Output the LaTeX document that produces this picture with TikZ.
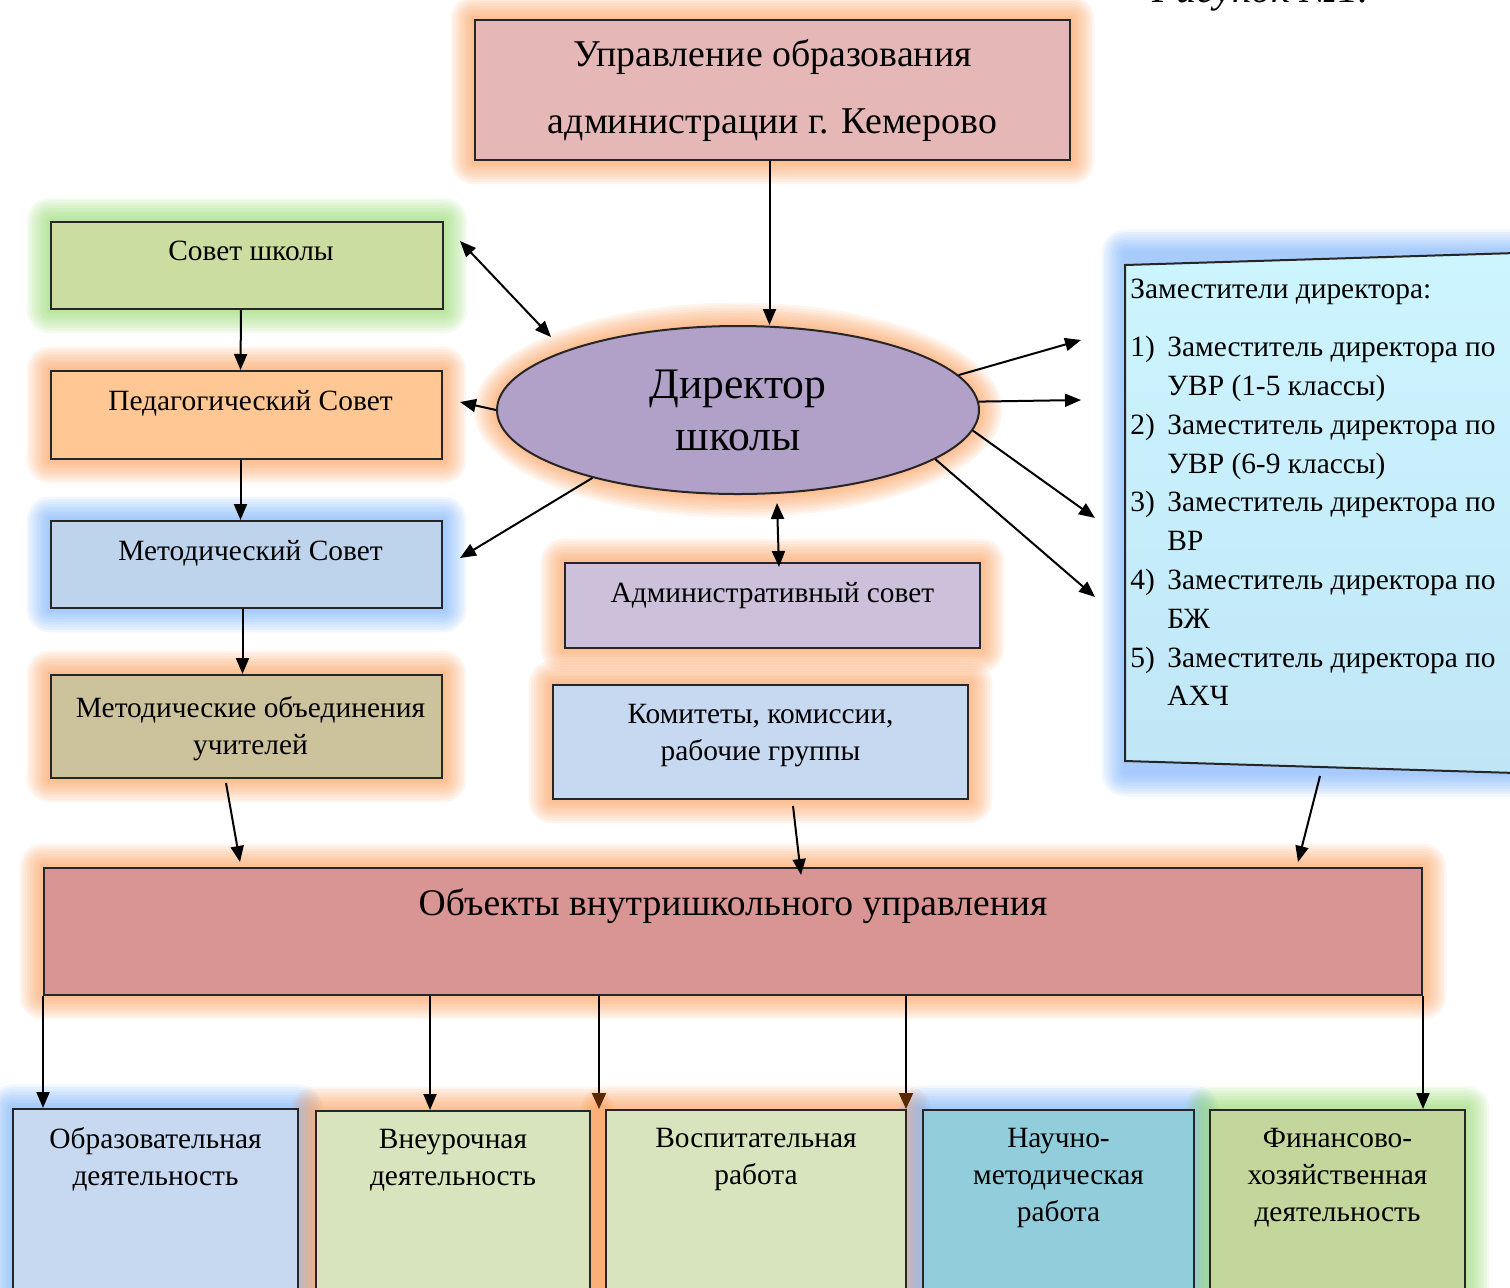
\documentclass[tikz,border=0pt]{standalone}
\usepackage{fontspec}
\setmainfont{Liberation Serif}
\usetikzlibrary{positioning,calc,arrows.meta,shapes.geometric,backgrounds}

\definecolor{uprc}{HTML}{E5B8B7}
\definecolor{sovc}{HTML}{CCDDA1}
\definecolor{pedc}{HTML}{FFC794}
\definecolor{metc}{HTML}{BED3EC}
\definecolor{moc}{HTML}{CCC29C}
\definecolor{dirc}{HTML}{B1A0C7}
\definecolor{admc}{HTML}{CCC0DA}
\definecolor{komc}{HTML}{C6D9F1}
\definecolor{objc}{HTML}{D99594}
\definecolor{zamtop}{HTML}{CDF5FF}
\definecolor{zambot}{HTML}{C0E6F6}
\definecolor{obrc}{HTML}{C6D9F1}
\definecolor{vnec}{HTML}{D7E4BD}
\definecolor{nauc}{HTML}{92CDDC}
\definecolor{finc}{HTML}{C3D69B}
\definecolor{glowor}{RGB}{250,145,70}
\definecolor{glowgr}{RGB}{135,212,90}
\definecolor{glowbl}{RGB}{100,165,250}
\definecolor{tipbr}{HTML}{5A2800}

% soft halo round a box, drawn on the background layer
\newcommand{\glow}[3]{%
  \begin{pgfonlayer}{background}
    \foreach \gl [evaluate=\gl as \gd using 1.3*\gl] in {1,...,9}
      \fill[#3, opacity=0.09, rounded corners=\gd pt]
        ([shift={(-\gd pt,-\gd pt)}]#1) rectangle ([shift={(\gd pt,\gd pt)}]#2);
  \end{pgfonlayer}}

\begin{document}
\begin{tikzpicture}[x=0.5pt, y=-0.5pt,
    blk/.style={draw=black!85, line width=1pt, fill=#1, inner sep=0pt, anchor=north west},
    lbl/.style={font=\fontsize{14.7}{18.5}\selectfont, align=center, inner sep=0pt},
    arr/.style={-{Triangle[length=8pt,width=6.5pt]}, line width=1pt},
    brarr/.style={-{Triangle[length=8pt,width=7pt,color=tipbr]}, line width=1pt},
    dbl/.style={{Triangle[length=8pt,width=6.5pt]}-{Triangle[length=8pt,width=6.5pt]}, line width=1pt}]
    \useasboundingbox (0,0) rectangle (1510,1287);

    \node[inner sep=0pt, anchor=base west, font=\itshape\fontsize{20}{20}\selectfont] (ris) at (1152,2) {Рисунок №1.};

    % top
    \node[blk=uprc, minimum width=297.5pt, minimum height=70pt, align=center,
          font=\fontsize{18.9}{33.5}\selectfont] (upr) at (474,19)
          {Управление образования\\администрации г. Кемерово};
    \node[draw=black!85, line width=1pt, fill=dirc, ellipse, inner sep=0pt,
          minimum width=241pt, minimum height=84pt, align=center,
          font=\fontsize{21.8}{26}\selectfont] (dir) at (738,410) {Директор\\школы};

    % left column
    \node[blk=sovc, minimum width=196pt, minimum height=43.5pt] (sov) at (50,221) {};
    \node[lbl, below=10pt of sov.north, xshift=2pt] (sovtxt) {Совет школы};
    \node[blk=pedc, minimum width=195.5pt, minimum height=44pt] (ped) at (50,370) {};
    \node[lbl, below=10pt of ped.north, xshift=2pt] (pedtxt) {Педагогический Совет};
    \node[blk=metc, minimum width=195.5pt, minimum height=43.5pt] (met) at (50,520) {};
    \node[lbl, below=10pt of met.north, xshift=2pt] (mettxt) {Методический Совет};
    \node[blk=moc, minimum width=195.5pt, minimum height=51.5pt] (mo) at (50,674) {};
    \node[lbl, below=11pt of mo.north, xshift=2pt] (motxt) {Методические объединения\\учителей};

    % middle
    \node[blk=admc, minimum width=207.5pt, minimum height=42.5pt] (adm) at (564,562) {};
    \node[lbl, below=10pt of adm.north] (admtxt) {Административный совет};
    \node[blk=komc, minimum width=207.5pt, minimum height=57pt] (kom) at (552,684) {};
    \node[lbl, below=10pt of kom.north] (komtxt) {Комитеты, комиссии,\\рабочие группы};

    % deputies
    \coordinate (ztl) at (1125,265);
    \coordinate (ztr) at (1516,253);
    \coordinate (zbr) at (1516,773);
    \coordinate (zbl) at (1125,761);
    \coordinate (zgl) at (1125,773);
    \draw[line width=1pt, draw=black!85, top color=zamtop, bottom color=zambot]
        (ztl) -- (ztr) -- (zbr) -- (zbl) -- cycle;
    \node[inner sep=0pt, anchor=north west, align=left, font=\fontsize{14.7}{19.4}\selectfont] (zamtxt) at (1130,279)
        {Заместители директора:\\[9.5pt]
         \makebox[18.5pt][l]{1)}Заместитель директора по\\
         \hspace*{18.5pt}УВР (1-5 классы)\\
         \makebox[18.5pt][l]{2)}Заместитель директора по\\
         \hspace*{18.5pt}УВР (6-9 классы)\\
         \makebox[18.5pt][l]{3)}Заместитель директора по\\
         \hspace*{18.5pt}ВР\\
         \makebox[18.5pt][l]{4)}Заместитель директора по\\
         \hspace*{18.5pt}БЖ\\
         \makebox[18.5pt][l]{5)}Заместитель директора по\\
         \hspace*{18.5pt}АХЧ};

    % objects
    \node[blk=objc, minimum width=689pt, minimum height=63.5pt] (obj) at (43,867) {};
    \node[lbl, below=10.5pt of obj.north, font=\fontsize{18.8}{22}\selectfont] (objtxt) {Объекты внутришкольного управления};

    \node[blk=obrc, minimum width=142.5pt, minimum height=100pt] (obr) at (12,1108) {};
    \node[lbl, below=9.5pt of obr.north] (obrtxt) {Образовательная\\деятельность};
    \node[blk=vnec, minimum width=137pt, minimum height=100pt] (vne) at (315,1110) {};
    \node[lbl, below=9.5pt of vne.north] (vnetxt) {Внеурочная\\деятельность};
    \node[blk=vnec, minimum width=150pt, minimum height=100pt] (vos) at (605,1109) {};
    \node[lbl, below=9.5pt of vos.north] (vostxt) {Воспитательная\\работа};
    \node[blk=nauc, minimum width=135.5pt, minimum height=100pt] (nau) at (922,1109) {};
    \node[lbl, below=9.5pt of nau.north] (nautxt) {Научно-\\методическая\\работа};
    \node[blk=finc, minimum width=127.5pt, minimum height=100pt] (fin) at (1209,1109) {};
    \node[lbl, below=9.5pt of fin.north] (fintxt) {Финансово-\\хозяйственная\\деятельность};

    % halos
    \glow{upr.south west}{upr.north east}{glowor}
    \glow{sov.south west}{sov.north east}{glowgr}
    \glow{ped.south west}{ped.north east}{glowor}
    \glow{met.south west}{met.north east}{glowbl}
    \glow{mo.south west}{mo.north east}{glowor}
    \glow{adm.south west}{adm.north east}{glowor}
    \glow{kom.south west}{kom.north east}{glowor}
    \glow{zgl}{ztr}{glowbl}
    \glow{obj.south west}{obj.north east}{glowor}
    \glow{obr.south west}{obr.north east}{glowbl}
    \glow{vne.south west}{vne.north east}{glowor}
    \glow{vos.south west}{vos.north east}{glowor}
    \glow{nau.south west}{nau.north east}{glowbl}
    \glow{fin.south west}{fin.north east}{glowgr}
    \begin{pgfonlayer}{background}
      \foreach \gl [evaluate=\gl as \rx using 120.5+1.3*\gl, evaluate=\gl as \ry using 42+1.3*\gl] in {1,...,9}
        \fill[glowor, opacity=0.09] (dir.center) ellipse [x radius=\rx pt, y radius=\ry pt];
    \end{pgfonlayer}

    % free arrow ends
    \coordinate (sovend) at (460,241);
    \coordinate (dirtop) at (551,337);
    \coordinate (pedend) at (460,402);
    \coordinate (metend) at (460,558);
    \coordinate (admtop) at (777,503);
    \coordinate (admend) at (779,567);
    \coordinate (z1) at (1081,340);
    \coordinate (z2) at (1081,400);
    \coordinate (z3) at (1095,518);
    \coordinate (z4) at (1095,597);
    \coordinate (mofrom) at (226,783);
    \coordinate (moto) at (240,862);
    \coordinate (komfrom) at (793,806);
    \coordinate (komto) at (801,875);
    \coordinate (zamfrom) at (1320,776);
    \coordinate (zamto) at (1298,862);

    \draw[arr] ([xshift=-1.5pt]upr.south) -- ([xshift=-1.5pt]upr.south |- dir.north);
    \draw[dbl] (sovend) -- (dirtop);
    \draw[arr] ([xshift=-3pt]sov.south) -- ([xshift=-3pt]ped.north);
    \draw[arr] ([xshift=-3pt]ped.south) -- ([xshift=-3pt]met.north);
    \draw[arr] ([xshift=-2pt]met.south) -- ([xshift=-2pt]mo.north);
    \draw[arr] (dir.west) -- (pedend);
    \draw[arr] (dir.205) -- (metend);
    \draw[dbl] (admtop) -- (admend);
    \draw[arr] (dir.9) -- (z1);
    \draw[arr] (dir.2) -- (z2);
    \draw[arr] (dir.-5) -- (z3);
    \draw[arr] (dir.-14) -- (z4);
    \draw[arr] (mofrom) -- (moto);
    \draw[arr] (komfrom) -- (komto);
    \draw[arr] (zamfrom) -- (zamto);

    \draw[arr] (obj.south west) -- (obj.south west |- obr.north);
    \draw[arr] ([xshift=193.5pt]obj.south west) -- ([xshift=193.5pt]obj.south west |- vne.north);
    \draw[brarr] ([xshift=278pt]obj.south west) -- ([xshift=278pt]obj.south west |- vos.north);
    \draw[brarr] ([xshift=431.5pt]obj.south west) -- ([xshift=431.5pt]obj.south west |- vos.north);
    \draw[arr] (obj.south east) -- (obj.south east |- fin.north);
\end{tikzpicture}
\end{document}
